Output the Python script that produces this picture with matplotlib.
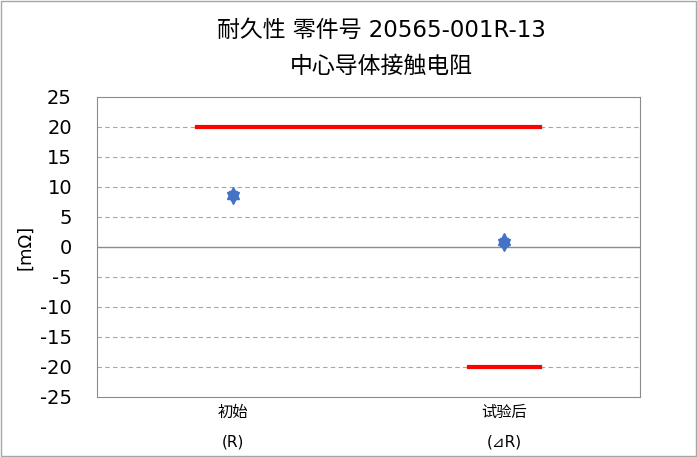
import matplotlib.pyplot as plt
import numpy as np

plt.rcParams['font.family'] = ['DejaVu Sans', 'Noto Sans CJK JP']
plt.rcParams['axes.unicode_minus'] = False

categories = ['初始\n\n(R)', '试验后\n\n(⊿R)']
max_vals = [9.0, 1.4]
min_vals = [8.2, 0.3]
upper_x = [-0.13, 1.13]
upper_y = [20, 20]
lower_x = [0.87, 1.13]
lower_y = [-20, -20]

fig = plt.figure(figsize=(6.97, 4.57), dpi=100)
fig.patches.append(plt.Rectangle((0.002, 0.002), 0.996, 0.996, transform=fig.transFigure,
                                 fill=False, edgecolor='#a6a6a6', lw=1))
ax = fig.add_axes([97/697, 60/457, 543/697, 300/457])

x = np.arange(len(categories))
ax.set_xlim(-0.5, 1.5)
ax.set_ylim(-25, 25)
ax.set_yticks(np.arange(-25, 26, 5))
for v in np.arange(-20, 21, 5):
    if v == 0:
        ax.axhline(0, color='#8c8c8c', lw=1, zorder=1)
    else:
        ax.axhline(v, color='#a6a6a6', lw=0.8, ls=(0, (4, 3)), zorder=1)

ax.plot(upper_x, upper_y, color='#ff0000', lw=3, zorder=2)
ax.plot(lower_x, lower_y, color='#ff0000', lw=3, zorder=2)
ax.plot(x, max_vals, ls='none', marker='^', ms=8, color='#4472c4', zorder=3)
ax.plot(x, min_vals, ls='none', marker='v', ms=8, color='#4472c4', zorder=3)
ax.plot(x, [(a + b) / 2 for a, b in zip(max_vals, min_vals)], ls='none', marker='s',
        ms=6, color='#4472c4', zorder=3)

ax.set_xticks(x)
ax.set_xticklabels(categories, fontsize=11, linespacing=0.95)
ax.tick_params(axis='x', length=0, pad=6)
ax.tick_params(axis='y', length=0, labelsize=14, pad=18)
for s in ax.spines.values():
    s.set_color('#8c8c8c')
ax.set_ylabel('[mΩ]', fontsize=13, labelpad=4)

fig.text(381/697, 1 - 30/457, '耐久性 零件号 20565-001R-13', fontsize=16.5, ha='center', va='center')
fig.text(381/697, 1 - 66/457, '中心导体接触电阻', fontsize=16.5, ha='center', va='center')

fig.savefig('out.png', dpi=100)
